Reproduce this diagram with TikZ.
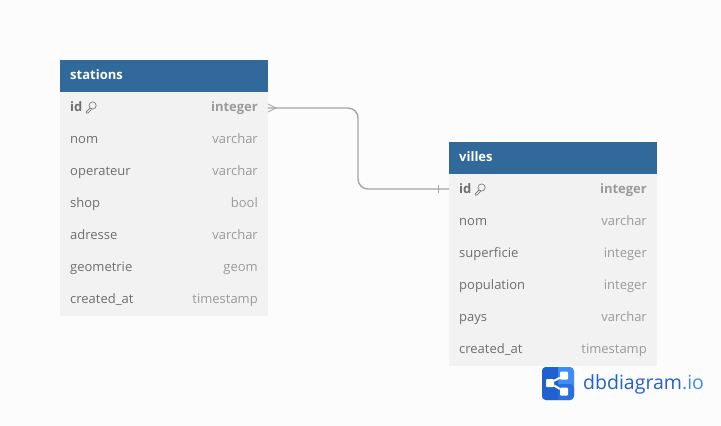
\documentclass[tikz,border=0pt]{standalone}
\usepackage{fontspec}
\setmainfont{Open Sans}
\usepackage{tikz}
\usetikzlibrary{positioning,calc}

\definecolor{headblue}{HTML}{316A9A}
\definecolor{rowgray}{HTML}{F2F2F2}
\definecolor{pagegray}{HTML}{FCFCFC}
\definecolor{fieldtext}{HTML}{6E6E6E}
\definecolor{typetext}{HTML}{9A9A9A}
\definecolor{linkgray}{HTML}{A4A4AC}
\definecolor{logodark}{HTML}{2160CF}
\definecolor{logomid}{HTML}{2A6FDD}
\definecolor{logolight}{HTML}{3F8CF5}

\tikzset{
  header/.style={fill=headblue, minimum width=208pt, minimum height=32pt, inner sep=0pt, outer sep=0pt},
  row/.style={fill=rowgray, minimum width=208pt, minimum height=32pt, inner sep=0pt, outer sep=0pt},
  label/.style={font=\fontsize{13}{13}\selectfont, text height=10pt, text depth=3pt, inner sep=0pt},
  tablename/.style={label, font=\fontsize{13}{13}\selectfont\bfseries, text=white, anchor=west},
  field/.style={label, text=fieldtext, anchor=west},
  type/.style={label, text=typetext, anchor=east},
  keyfield/.style={field, font=\fontsize{13}{13}\selectfont\bfseries},
  keytype/.style={type, font=\fontsize{13}{13}\selectfont\bfseries},
  link/.style={draw=linkgray, line width=1.4pt, rounded corners=10pt},
  keyicon/.style={draw=fieldtext, line width=0.6pt},
  logobox/.style={rectangle, rounded corners=1pt, fill=white, inner sep=0pt, minimum size=8pt}
}

% one line of a table: name, row above, field, type
\newcommand{\tablerow}[4]{
  \node[row, below=0pt of #2] (#1) {};
  \node[field] at ($(#1.west)+(10,0)$) {#3};
  \node[type] at ($(#1.east)+(-10,0)$) {#4};
}
\newcommand{\keymark}[1]{
  \draw[keyicon] ($(#1)+(1,-2.5)$) circle (3.6pt);
  \draw[keyicon] ($(#1)+(-1.5,0)$) -- ($(#1)+(-5.5,4)$) -- ($(#1)+(-5.5,5)$) -- ($(#1)+(-3.5,5)$) -- ($(#1)+(0,1.2)$);
}

\begin{document}
\begin{tikzpicture}[x=1pt,y=-1pt]
\useasboundingbox (0,0) rectangle (721,426);
\fill[pagegray] (0,0) rectangle (721,426);

% stations
\node[row] (stationsid) at (164,108) {};
\node[header] (stations) at (164,76) {};
\node[tablename] at (stations.west) [xshift=10pt] {stations};
\node[keyfield] (stationskey) at ($(stationsid.west)+(10,0)$) {id};
\keymark{$(stationskey.east)+(9,0)$}
\node[keytype] at ($(stationsid.east)+(-10,0)$) {integer};
\tablerow{stationsnom}{stationsid}{nom}{varchar}
\tablerow{stationsoperateur}{stationsnom}{operateur}{varchar}
\tablerow{stationsshop}{stationsoperateur}{shop}{bool}
\tablerow{stationsadresse}{stationsshop}{adresse}{varchar}
\tablerow{stationsgeometrie}{stationsadresse}{geometrie}{geom}
\tablerow{stationscreated}{stationsgeometrie}{created\_at}{timestamp}

% villes
\node[row] (villesid) at (553,190) {};
\node[header] (villes) at (553,158) {};
\node[tablename] at (villes.west) [xshift=10pt] {villes};
\node[keyfield] (villeskey) at ($(villesid.west)+(10,0)$) {id};
\keymark{$(villeskey.east)+(9,0)$}
\node[keytype] at ($(villesid.east)+(-10,0)$) {integer};
\tablerow{villesnom}{villesid}{nom}{varchar}
\tablerow{villessuperficie}{villesnom}{superficie}{integer}
\tablerow{villespopulation}{villessuperficie}{population}{integer}
\tablerow{villespays}{villespopulation}{pays}{varchar}
\tablerow{villescreated}{villespays}{created\_at}{timestamp}

% link
\coordinate (crowtip) at ($(stationsid.east)+(8,0)$);
\coordinate (bartick) at ($(villesid.west)+(-11,-1)$);
\coordinate (startlink) at ($(stationsid.east)$);
\coordinate (endlink) at ($(villesid.west)+(0,-1)$);
\draw[link] (startlink) -- (358,108) -- (358,189) -- (endlink);
\draw[draw=linkgray, line width=0.7pt] ($(startlink)+(0,-4)$) -- (crowtip) -- ($(startlink)+(0,4)$);
\draw[draw=linkgray, line width=0.8pt] ($(bartick)+(0,-4)$) -- ($(bartick)+(0,4)$);

% logo
\fill[logolight, rounded corners=4pt] (542,367) rectangle (574,400);
\fill[logomid, rounded corners=4pt] (550,384) rectangle (574,400);
\fill[logodark, rounded corners=4pt] (542,367) rectangle (558,400);
\fill[logodark] (552,367) rectangle (558,400);
\node[logobox] (logoa) at (550,383) {};
\node[logobox] (logob) at (564,375.5) {};
\node[logobox] (logoc) at (564,391.5) {};
\draw[white, line width=2pt] (logoa) -- (logob);
\draw[white, line width=2pt] (logoa) -- (logoc);
\node[anchor=west, inner sep=0pt, font=\fontsize{19.5}{20}\selectfont] (logotext) at (583,384)
  {\textcolor{logodark}{dbdiagram}\textcolor{logolight}{.io}};
\end{tikzpicture}
\end{document}
